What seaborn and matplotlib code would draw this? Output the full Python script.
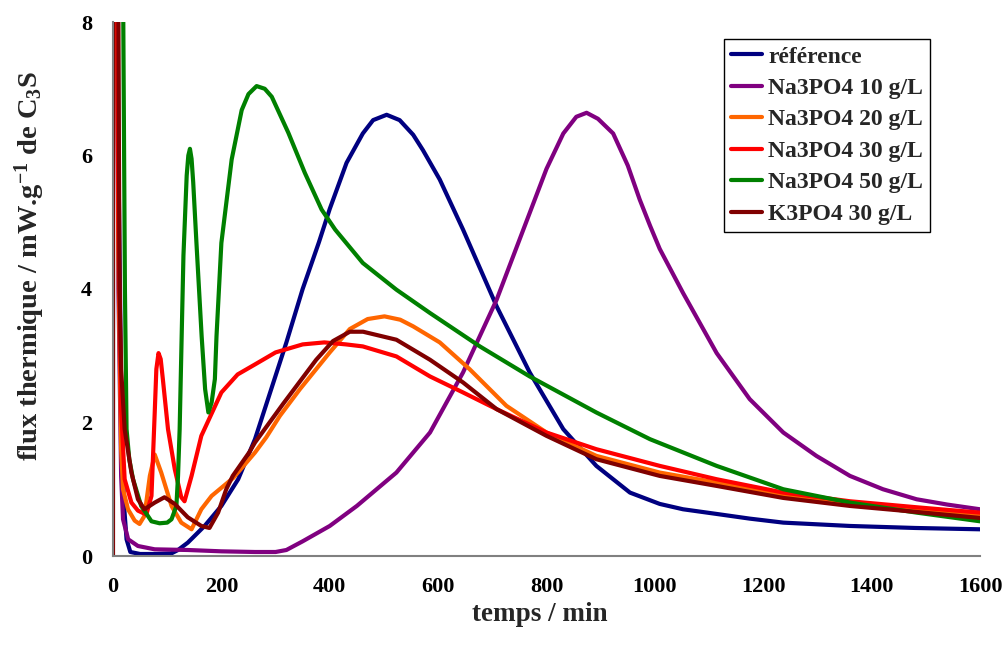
import numpy as np
import pandas as pd
import matplotlib
matplotlib.use("Agg")
import matplotlib.pyplot as plt
import seaborn as sns

# ---------------- data ----------------
t_ref = [0, 5, 10, 15, 20, 25, 32, 50, 80, 108, 120, 138, 169, 200, 231, 262, 290, 320, 350,
         380, 400, 431, 461, 480, 505, 529, 554, 572, 603, 646, 708, 769, 831, 892, 954,
         1009, 1052, 1114, 1175, 1237, 1360, 1480, 1600]
y_ref = [30, 15, 6, 2.5, 0.8, 0.25, 0.06, 0.03, 0.03, 0.04, 0.09, 0.2, 0.45, 0.75, 1.15, 1.75,
         2.45, 3.2, 4.0, 4.7, 5.2, 5.89, 6.33, 6.53, 6.61, 6.53, 6.31, 6.08, 5.64, 4.89, 3.74,
         2.75, 1.9, 1.35, 0.95, 0.78, 0.70, 0.63, 0.56, 0.50, 0.45, 0.42, 0.40]

t_na10 = [0, 5, 10, 15, 18.5, 28, 46, 77, 138, 200, 262, 300, 320, 350, 400, 450, 523, 585,
          646, 708, 769, 800, 831, 855, 874, 895, 923, 950, 972, 991, 1009, 1052, 1114, 1175,
          1237, 1298, 1360, 1421, 1483, 1540, 1600]
y_na10 = [30, 12, 4, 1.2, 0.55, 0.25, 0.15, 0.10, 0.09, 0.07, 0.06, 0.06, 0.09, 0.22, 0.45,
          0.75, 1.25, 1.85, 2.75, 3.84, 5.14, 5.8, 6.33, 6.58, 6.64, 6.55, 6.33, 5.85, 5.34,
          4.95, 4.6, 3.94, 3.04, 2.35, 1.85, 1.5, 1.2, 1.0, 0.85, 0.77, 0.70]

t_na20 = [0, 5, 10, 15, 18.5, 27.7, 40, 49, 58, 68, 77, 89, 108, 126, 145, 163, 182, 222,
          262, 283, 308, 345, 375, 400, 437, 470, 501, 530, 554, 603, 658, 726, 800, 892,
          1009, 1114, 1237, 1360, 1483, 1600]
y_na20 = [30, 12, 4.5, 1.6, 1.0, 0.70, 0.53, 0.48, 0.60, 1.2, 1.52, 1.25, 0.75, 0.5, 0.40,
          0.70, 0.90, 1.17, 1.55, 1.78, 2.1, 2.5, 2.8, 3.05, 3.40, 3.55, 3.59, 3.54, 3.44,
          3.2, 2.80, 2.25, 1.85, 1.50, 1.25, 1.10, 0.90, 0.78, 0.70, 0.62]

t_na30 = [0, 5, 10, 15, 21.5, 34, 46, 61.5, 71, 77, 80, 84, 88, 92, 101.5, 114, 126, 132,
          145, 163, 200, 230, 262, 300, 350, 390, 430, 461, 523, 585, 646, 708, 800, 892,
          1009, 1114, 1237, 1360, 1483, 1600]
y_na30 = [30, 12, 5, 2.2, 1.15, 0.80, 0.68, 0.62, 0.9, 2.15, 2.8, 3.04, 2.95, 2.65, 1.9,
          1.3, 0.88, 0.82, 1.2, 1.8, 2.45, 2.72, 2.87, 3.05, 3.17, 3.2, 3.17, 3.14, 2.99,
          2.69, 2.45, 2.2, 1.85, 1.6, 1.35, 1.15, 0.95, 0.82, 0.73, 0.65]

t_na50 = [0, 15, 19, 22, 25, 30, 37, 52, 71, 86, 100, 108, 117, 120, 123, 127, 130, 136,
          139, 142, 145, 148, 154, 163.6, 170, 176, 182, 188, 191, 200, 219, 237.5, 250, 265,
          280, 293, 323.6, 354, 385, 410, 461, 523, 585, 677, 769, 892, 991, 1114, 1237,
          1360, 1483, 1600]
y_na50 = [40, 12, 8, 4, 1.9, 1.45, 1.15, 0.75, 0.52, 0.49, 0.5, 0.55, 0.75, 1.2, 1.9, 3.4,
          4.5, 5.7, 6.0, 6.1, 5.95, 5.6, 4.69, 3.29, 2.5, 2.15, 2.3, 2.65, 3.29, 4.69, 5.94,
          6.68, 6.92, 7.04, 7.0, 6.88, 6.34, 5.74, 5.19, 4.89, 4.39, 3.99, 3.64, 3.14, 2.69,
          2.15, 1.75, 1.35, 1.0, 0.8, 0.65, 0.52]

t_k30 = [0, 2, 6, 9, 12, 15, 21.5, 34, 46, 58, 77, 95, 114, 138, 163, 178, 194, 209, 221,
         252, 262, 314, 375, 406, 437, 461.5, 523, 585, 646, 708, 800, 892, 1009, 1114, 1237,
         1360, 1483, 1600]
y_k30 = [0, 40, 30, 10, 4.0, 2.8, 1.9, 1.25, 0.85, 0.70, 0.80, 0.88, 0.78, 0.58, 0.45, 0.42,
         0.65, 1.0, 1.2, 1.56, 1.7, 2.28, 2.94, 3.22, 3.36, 3.36, 3.24, 2.94, 2.60, 2.2, 1.80,
         1.45, 1.20, 1.05, 0.87, 0.75, 0.66, 0.57]

labels = ["référence", "Na3PO4 10 g/L", "Na3PO4 20 g/L", "Na3PO4 30 g/L",
          "Na3PO4 50 g/L", "K3PO4 30 g/L"]
colors = ["#000080", "#800080", "#FF6600", "#FF0000", "#008000", "#800000"]

series = [(t_ref, y_ref), (t_na10, y_na10), (t_na20, y_na20), (t_na30, y_na30),
          (t_na50, y_na50), (t_k30, y_k30)]

frames = []
for lab, (t, y) in zip(labels, series):
    frames.append(pd.DataFrame({"t": t, "flux": y, "serie": lab}))
df = pd.concat(frames, ignore_index=True)

# ---------------- style ----------------
sns.set_style("white")
plt.rcParams["font.family"] = ["Liberation Serif", "DejaVu Serif"]
plt.rcParams["font.weight"] = "bold"
plt.rcParams["mathtext.fontset"] = "custom"
plt.rcParams["mathtext.rm"] = "Liberation Serif:bold"
plt.rcParams["mathtext.bf"] = "Liberation Serif:bold"
plt.rcParams["mathtext.it"] = "Liberation Serif:bold"
plt.rcParams["mathtext.default"] = "bf"

fig = plt.figure(figsize=(10.05, 6.46), dpi=100)
ax = fig.add_axes([113 / 1005, 1 - 556 / 646, (980 - 113) / 1005, (556 - 22) / 646])

sns.lineplot(data=df, x="t", y="flux", hue="serie", hue_order=labels,
             palette=dict(zip(labels, colors)), estimator=None, sort=False,
             linewidth=3, solid_joinstyle="round", solid_capstyle="round", ax=ax)

ax.set_xlim(0, 1600)
ax.set_ylim(0, 8)
ax.set_xticks(np.arange(0, 1601, 200))
ax.set_yticks(np.arange(0, 9, 2))

for s in ["top", "right"]:
    ax.spines[s].set_visible(False)
for s in ["left", "bottom"]:
    ax.spines[s].set_color("#808080")
    ax.spines[s].set_linewidth(1.5)

ax.tick_params(axis="both", which="major", direction="out", length=5, width=1,
               color="#808080", labelsize=16, labelcolor="black")
ax.tick_params(axis="x", pad=10)
ax.tick_params(axis="y", pad=10)
for lbl in ax.get_xticklabels() + ax.get_yticklabels():
    lbl.set_fontweight("bold")

ax.set_xlabel("temps / min", fontsize=19.5, fontweight="bold")
ax.set_ylabel(r"flux thermique / mW.g$^{-1}$ de C$_{3}$S", fontsize=20.5, fontweight="bold")
ax.xaxis.set_label_coords(0.492, -0.11)
ax.yaxis.set_label_coords(-0.0957, 0.544)
ax.xaxis.label.set_verticalalignment("center")
ax.yaxis.label.set_verticalalignment("center")

handles, labs = ax.get_legend_handles_labels()
leg = ax.legend(handles, labs, loc="upper right", bbox_to_anchor=(930 / 1005, 1 - 39 / 646),
                bbox_transform=fig.transFigure, borderaxespad=0, frameon=True, fancybox=False,
                edgecolor="black", framealpha=1, prop={"weight": "bold", "size": 17},
                handlelength=1.3, handletextpad=0.25, labelspacing=0.42, borderpad=0.3)
leg.get_frame().set_linewidth(1.0)
for line in leg.get_lines():
    line.set_linewidth(3)

fig.savefig("out.png", dpi=100)
